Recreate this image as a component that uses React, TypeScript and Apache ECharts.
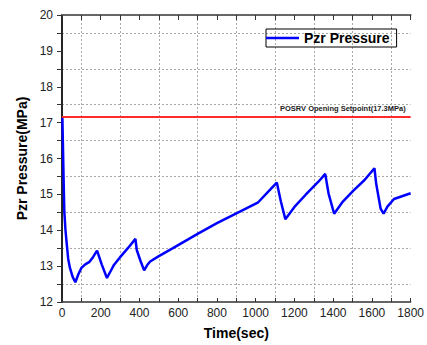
import React, { useEffect, useRef } from "react";
import * as echarts from "echarts";

const timeSec = [2, 8, 12, 18, 24, 32, 41, 55, 69, 85, 100, 120, 142, 160, 181, 205, 232, 250, 269, 300, 340, 379, 386, 405, 424, 440, 455, 500, 573, 700, 800, 903, 1013, 1060, 1109, 1130, 1153, 1200, 1258, 1325, 1359, 1376, 1405, 1450, 1503, 1562, 1613, 1622, 1645, 1660, 1680, 1714, 1800];
const pzrPressure = [17.13, 15.5, 14.52, 14.0, 13.65, 13.2, 12.95, 12.7, 12.55, 12.78, 12.95, 13.05, 13.12, 13.25, 13.43, 13.05, 12.67, 12.85, 13.04, 13.25, 13.5, 13.76, 13.45, 13.15, 12.88, 13.03, 13.13, 13.28, 13.5, 13.9, 14.2, 14.48, 14.78, 15.05, 15.33, 14.8, 14.31, 14.65, 14.99, 15.36, 15.57, 15.03, 14.46, 14.8, 15.1, 15.4, 15.73, 15.3, 14.6, 14.46, 14.66, 14.87, 15.03];
const setpointValue = 17.16;
const setpointLabel = "POSRV Opening Setpoint(17.3MPa)";
const seriesName = "Pzr Pressure";
const xTitle = "Time(sec)";
const yTitle = "Pzr Pressure(MPa)";

const FONT = "'Liberation Sans', Arial, sans-serif";

export default function App() {
  const ref = useRef<HTMLDivElement>(null);
  useEffect(() => {
    if (!ref.current) return;
    const chart = echarts.init(ref.current, null, { renderer: "svg" });
    const data = timeSec.map((t, i) => [t, pzrPressure[i]]);
    const gridLine = { show: true, lineStyle: { color: "#a8a8a8", type: [2, 2], width: 1 } };
    chart.setOption({
      animation: false,
      backgroundColor: "#ffffff",
      textStyle: { fontFamily: FONT },
      grid: { left: 62, right: 10, top: 15, bottom: 43 },
      legend: {
        left: 266,
        top: 29,
        data: [seriesName],
        icon: "rect",
        itemWidth: 33,
        itemHeight: 2.5,
        borderColor: "#000",
        borderWidth: 1,
        padding: [2, 7, 2, 0],
        textStyle: { fontSize: 14, fontWeight: "bold", color: "#000", fontFamily: FONT },
      },
      xAxis: [
        {
          type: "value",
          position: "bottom",
          min: 0,
          max: 1800,
          interval: 200,
          name: xTitle,
          nameLocation: "middle",
          nameGap: 24,
          nameTextStyle: { fontSize: 14, fontWeight: "bold", color: "#000", fontFamily: FONT },
          axisLine: { show: true, lineStyle: { color: "#333", width: 1.5 } },
          axisTick: { show: true, inside: true, length: 4, lineStyle: { color: "#333" } },
          minorTick: { show: true, splitNumber: 2, length: 4, lineStyle: { color: "#333" } },
          axisLabel: { fontSize: 12, color: "#222", margin: 5, fontFamily: FONT, formatter: (v: number) => String(v) },
          splitLine: { show: false },
          minorSplitLine: gridLine,
        },
        {
          type: "value",
          position: "top",
          min: 0,
          max: 1800,
          interval: 200,
          axisLine: { show: true, lineStyle: { color: "#666", width: 2 } },
          axisTick: { show: true, inside: true, length: 5, lineStyle: { color: "#333" } },
          minorTick: { show: true, splitNumber: 2, length: 5, lineStyle: { color: "#333" } },
          axisLabel: { show: false },
          splitLine: { show: false },
        },
      ],
      yAxis: [
        {
          type: "value",
          position: "left",
          min: 12,
          max: 20,
          interval: 1,
          name: yTitle,
          nameLocation: "middle",
          nameGap: 30,
          nameTextStyle: { fontSize: 14, fontWeight: "bold", color: "#000", fontFamily: FONT },
          axisLine: { show: true, lineStyle: { color: "#666", width: 2 } },
          axisTick: { show: true, inside: false, length: 5, lineStyle: { color: "#333" } },
          minorTick: { show: true, splitNumber: 2, length: 3, lineStyle: { color: "#333" } },
          axisLabel: { fontSize: 12, color: "#222", margin: 9, fontFamily: FONT },
          splitLine: { show: false },
          minorSplitLine: gridLine,
        },
        {
          type: "value",
          position: "right",
          min: 12,
          max: 20,
          interval: 1,
          axisLine: { show: true, lineStyle: { color: "#111", width: 1.5 } },
          axisTick: { show: true, inside: true, length: 5, lineStyle: { color: "#333" } },
          minorTick: { show: true, splitNumber: 2, length: 5, lineStyle: { color: "#333" } },
          axisLabel: { show: false },
          splitLine: { show: false },
        },
      ],
      series: [
        {
          name: seriesName,
          type: "line",
          xAxisIndex: 0,
          yAxisIndex: 0,
          data,
          showSymbol: false,
          symbol: "none",
          lineStyle: { color: "#0000ff", width: 2.5 },
          itemStyle: { color: "#0000ff" },
          markLine: {
            silent: true,
            symbol: "none",
            lineStyle: { color: "#ff2a2a", width: 2, type: "solid" },
            label: {
              show: true,
              position: "insideEndTop",
              distance: [5, 4],
              formatter: setpointLabel,
              fontSize: 7.5,
              fontWeight: "bold",
              color: "#222",
              fontFamily: FONT,
            },
            data: [{ yAxis: setpointValue }],
          },
        },
      ],
    });
    return () => chart.dispose();
  }, []);
  return (
    <div
      ref={ref}
      style={{ position: "fixed", left: 0, top: 0, width: 427, height: 345, background: "#fff" }}
    />
  );
}
